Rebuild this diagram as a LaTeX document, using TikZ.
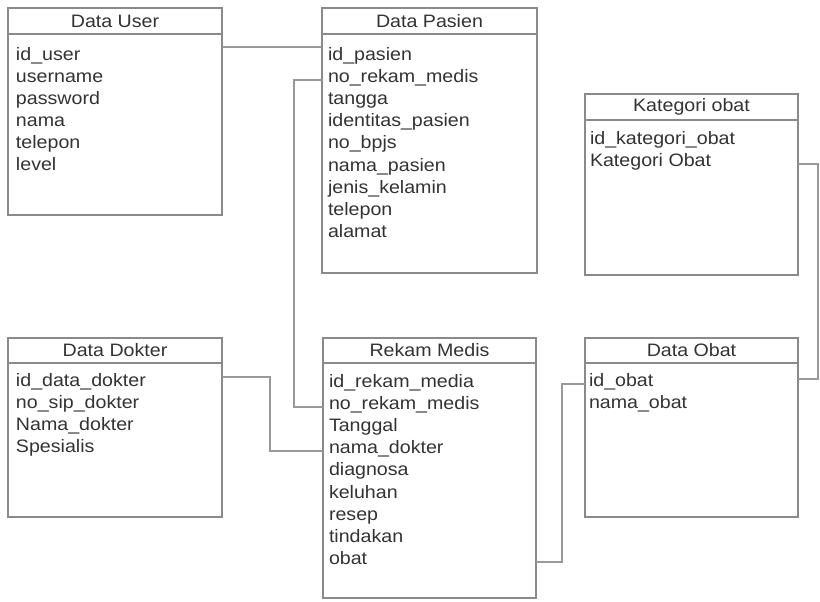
\documentclass[tikz,border=0pt]{standalone}
\usepackage{fontspec}
\setmainfont{Liberation Sans}[FakeStretch=1.09]
\definecolor{txt}{HTML}{333333}
\definecolor{bord}{HTML}{8A8A8A}
\definecolor{lnk}{HTML}{999999}
\begin{document}
\begin{tikzpicture}[x=1pt,y=-1pt,
  every node/.style={font=\fontsize{18}{22}\selectfont, text=txt},
  hdr/.style={draw=bord, line width=1.2pt, anchor=north west, minimum height=26pt, inner sep=0pt, outer sep=0pt},
  tbody/.style={draw=bord, line width=1.2pt, anchor=north west, inner sep=0pt, outer sep=0pt},
  fld/.style={anchor=mid west, inner sep=0pt, outer sep=0pt},
  conn/.style={draw=lnk, line width=1.2pt}]
\fill[white] (0,0) rectangle (820,602);
\useasboundingbox (0,0) rectangle (820,602);
% Data User
\node[hdr, minimum width=214pt] (uh) at (8,8) {Data User};
\node[tbody, minimum width=214pt, minimum height=181pt] (u) at (uh.south west) {};
\node[fld] (u1) at (16,58) {id\_user};
\node[fld] (u2) at (16,80) {username};
\node[fld] (u3) at (16,102) {password};
\node[fld] (u4) at (16,124) {nama};
\node[fld] (u5) at (16,146) {telepon};
\node[fld] (u6) at (16,168) {level};
% Data Pasien
\node[hdr, minimum width=215pt] (ph) at (322,8) {Data Pasien};
\node[tbody, minimum width=215pt, minimum height=239pt] (p) at (ph.south west) {};
\node[fld] (p1) at (328,58) {id\_pasien};
\node[fld] (p2) at (328,80) {no\_rekam\_medis};
\node[fld] (p3) at (328,102) {tangga};
\node[fld] (p4) at (328,124) {identitas\_pasien};
\node[fld] (p5) at (328,146) {no\_bpjs};
\node[fld] (p6) at (328,169) {nama\_pasien};
\node[fld] (p7) at (328,191) {jenis\_kelamin};
\node[fld] (p8) at (328,213) {telepon};
\node[fld] (p9) at (328,235) {alamat};
% Kategori obat
\node[hdr, minimum width=213pt] (kh) at (585,94) {Kategori obat};
\node[tbody, minimum width=213pt, minimum height=155pt] (k) at (kh.south west) {};
\node[fld] (k1) at (590,142) {id\_kategori\_obat};
\node[fld] (k2) at (590,164) {Kategori Obat};
% Data Dokter
\node[hdr, minimum width=214pt, minimum height=25pt] (dh) at (8,338) {Data Dokter};
\node[tbody, minimum width=214pt, minimum height=154pt] (d) at (dh.south west) {};
\node[fld] (d1) at (16,384) {id\_data\_dokter};
\node[fld] (d2) at (16,406) {no\_sip\_dokter};
\node[fld] (d3) at (16,428) {Nama\_dokter};
\node[fld] (d4) at (16,450) {Spesialis};
% Rekam Medis
\node[hdr, minimum width=213pt, minimum height=25pt] (rh) at (323,338) {Rekam Medis};
\node[tbody, minimum width=213pt, minimum height=235pt] (r) at (rh.south west) {};
\node[fld] (r1) at (329,385) {id\_rekam\_media};
\node[fld] (r2) at (329,407) {no\_rekam\_medis};
\node[fld] (r3) at (329,429) {Tanggal};
\node[fld] (r4) at (329,451) {nama\_dokter};
\node[fld] (r5) at (329,473) {diagnosa};
\node[fld] (r6) at (329,496) {keluhan};
\node[fld] (r7) at (329,518) {resep};
\node[fld] (r8) at (329,540) {tindakan};
\node[fld] (r9) at (329,562) {obat};
% Data Obat
\node[hdr, minimum width=213pt, minimum height=25pt] (oh) at (585,338) {Data Obat};
\node[tbody, minimum width=213pt, minimum height=154pt] (o) at (oh.south west) {};
\node[fld] (o1) at (589,384) {id\_obat};
\node[fld] (o2) at (589,406) {nama\_obat};
% connectors
\coordinate (x1) at (294,0);
\coordinate (x2) at (270,0);
\coordinate (x3) at (562,0);
\coordinate (x4) at (818,0);
\coordinate (c1) at ([yshift=11pt]p1.mid);
\coordinate (c3) at ([yshift=7pt]d1.mid);
\coordinate (c5) at ([yshift=5pt]o1.mid);
\draw[conn] (u.east |- c1) -- (p.west |- c1);
\draw[conn] (p.west |- p2.mid) -- (x1 |- p2.mid) -- (x1 |- r2.mid) -- (r.west |- r2.mid);
\draw[conn] (d.east |- c3) -- (x2 |- c3) -- (x2 |- r4.mid) -- (r.west |- r4.mid);
\draw[conn] (r.east |- r9.mid) -- (x3 |- r9.mid) -- (x3 |- o1.mid) -- (o.west |- o1.mid);
\draw[conn] (k.east |- k2.mid) -- (x4 |- k2.mid) -- (x4 |- c5) -- (o.east |- c5);
\end{tikzpicture}
\end{document}
